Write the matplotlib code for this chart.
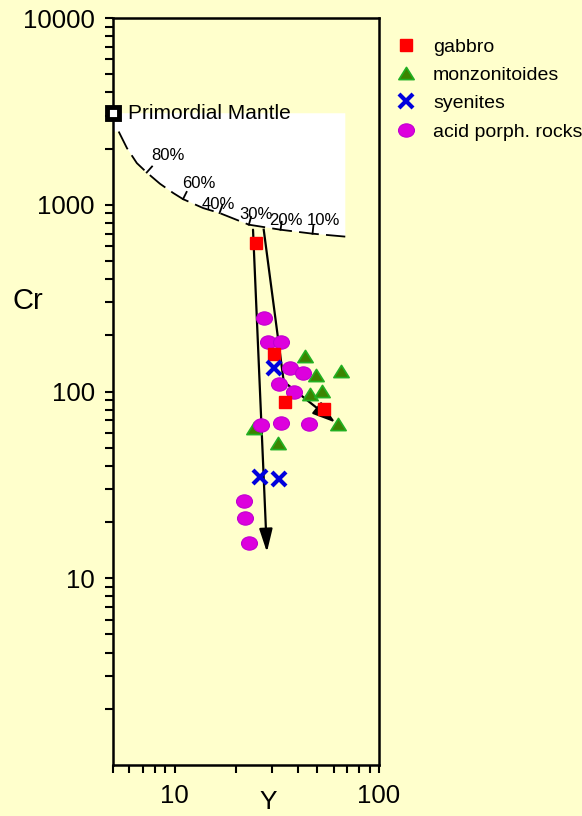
import numpy as np
import matplotlib
matplotlib.use("Agg")
import matplotlib.pyplot as plt
from matplotlib.path import Path

plt.rcParams['font.family'] = ['Liberation Sans', 'DejaVu Sans']

# Y (ppm) and Cr (ppm) of the sample groups
gabbro_y = [25.0, 30.5, 34.6, 54.1]
gabbro_cr = [627, 158, 88, 81]

monz_y = [43.3, 49.4, 65.5, 46.2, 52.8, 63.2, 24.4, 32.0]
monz_cr = [154, 122, 128, 97, 101, 67, 64, 53]

syen_y = [30.5, 26.1, 32.4]
syen_cr = [133, 35, 34]

acid_y = [27.3, 28.6, 33.0, 36.6, 42.3, 32.4, 38.3, 26.4, 33.0, 45.7, 21.9, 22.1, 23.1]
acid_cr = [249, 183, 183, 134, 126, 110, 100, 66, 68, 67, 26, 21, 15.4]

# primordial mantle and batch melting curve
pm_y, pm_cr = 5.0, 3090
melt_y = [5.33, 5.85, 6.54, 7.31, 8.49, 9.86, 11.0, 13.8, 16.6, 23.1, 33.0, 47.3, 68.4]
melt_cr = [2466, 2011, 1671, 1489, 1295, 1155, 1072, 960, 903, 782, 735, 700, 675]
box_top = 3090

# degree of melting marks on the curve
pct_labels = ['80%', '60%', '40%', '30%', '20%', '10%']
pct_y = [7.31, 11.0, 16.6, 23.1, 33.0, 47.3]
pct_cr = [1489, 1072, 903, 782, 735, 700]
pct_lab_y = [9.25, 13.1, 16.4, 25.0, 35.0, 53.5]
pct_lab_cr = [1828, 1294, 1000, 885, 821, 821]

# fractionation trends
trend1_y = [24.2, 28.3]
trend1_cr = [735, 13.8]
trend2_y = [27.3, 34.2, 61.1]
trend2_cr = [735, 113, 68.2]

bg = '#FFFFCC'
fig = plt.figure(figsize=(5.82, 8.16), dpi=100, facecolor=bg)
ax = fig.add_axes([113/582, 1 - 765/816, 266/582, 747/816])
ax.set_facecolor(bg)
ax.set_xscale('log')
ax.set_yscale('log')
ax.set_xlim(5, 100)
ax.set_ylim(1, 10000)

# white field above the melting curve
poly_x = [pm_y, melt_y[-1]] + melt_y[::-1] + [pm_y]
poly_y = [box_top, box_top] + melt_cr[::-1] + [melt_cr[0]]
ax.fill(poly_x, poly_y, color='white', zorder=1, lw=0)

ax.plot(melt_y, melt_cr, color='black', lw=1.3, dashes=(11, 4), zorder=2)

# short ticks across the curve
fig.canvas.draw()
pts = ax.transData.transform(np.column_stack([melt_y, melt_cr]))
for xv, yv in zip(pct_y, pct_cr):
    p = ax.transData.transform((xv, yv))
    i = int(np.argmin(np.abs(np.array(melt_y) - xv)))
    a = pts[max(i - 1, 0)]
    b = pts[min(i + 1, len(pts) - 1)]
    t = (b - a) / np.hypot(*(b - a))
    n = np.array([-t[1], t[0]])
    if n[1] < 0:
        n = -n
    q = p + n * 8
    seg = ax.transData.inverted().transform([p, q])
    ax.plot(seg[:, 0], seg[:, 1], color='black', lw=1.3, zorder=2)

for lab, xv, yv in zip(pct_labels, pct_lab_y, pct_lab_cr):
    ax.text(xv, yv, lab, fontsize=12, ha='center', va='center', zorder=3)

ax.plot(pm_y, pm_cr, marker='s', ms=9, mfc='white', mec='black', mew=3.5,
        clip_on=False, zorder=6)
ax.text(5.95, pm_cr, 'Primordial Mantle', fontsize=15, va='center', ha='left', zorder=6)

# trend lines with arrows
ax.annotate('', xy=(trend1_y[1], trend1_cr[1]), xytext=(trend1_y[0], trend1_cr[0]),
            arrowprops=dict(arrowstyle='-|>,head_length=1.4,head_width=0.4', lw=1.6,
                            color='black', shrinkA=0, shrinkB=0), zorder=3)
ax.plot(trend2_y[:2], trend2_cr[:2], color='black', lw=1.6, zorder=3)
ax.annotate('', xy=(trend2_y[2], trend2_cr[2]), xytext=(trend2_y[1], trend2_cr[1]),
            arrowprops=dict(arrowstyle='-|>,head_length=1.4,head_width=0.45', lw=1.6,
                            color='black', shrinkA=0, shrinkB=0), zorder=3)

tri = Path([(0, 0.8), (-1, -0.8), (1, -0.8), (0, 0.8)],
           [Path.MOVETO, Path.LINETO, Path.LINETO, Path.CLOSEPOLY])
circ = Path.unit_circle()
ell = Path(circ.vertices * [1.2, 1.0], circ.codes)

ax.plot(monz_y, monz_cr, ls='none', marker=tri, ms=11, mfc='#3c8400', mec='#22b022',
        mew=1.2, zorder=4, label='monzonitoides')
ax.plot(acid_y, acid_cr, ls='none', marker=ell, ms=11.5, mfc='#dd00dd', mec='#c000d0',
        mew=0.8, zorder=5, label='acid porph. rocks')
ax.plot(gabbro_y, gabbro_cr, ls='none', marker='s', ms=9.3, mfc='#ff0000', mec='#ff0000',
        zorder=6, label='gabbro')
ax.plot(syen_y, syen_cr, ls='none', marker='x', ms=10, mec='#0000dd', mew=3,
        zorder=7, label='syenites')

for s in ax.spines.values():
    s.set_linewidth(1.8)
ax.tick_params(which='both', direction='out', length=6, width=1.5, top=False, right=False,
               labelsize=18.5)
ax.tick_params(axis='y', which='both', pad=7)
ax.tick_params(axis='x', which='both', pad=8)
ax.set_yticks([10, 100, 1000, 10000])
ax.set_yticklabels(['10', '100', '1000', '10000'])
ax.set_xticks([10, 100])
ax.set_xticklabels(['10', '100'])

fig.text(28/582, 1 - 301/816, 'Cr', fontsize=21, ha='center', va='center')
fig.text(268/582, 2/816, 'Y', fontsize=19, ha='center', va='bottom')

h, l = ax.get_legend_handles_labels()
order = [2, 0, 3, 1]
ax.legend([h[i] for i in order], [l[i] for i in order], loc='upper left',
          bbox_to_anchor=(396/582, 1 - 38/816), bbox_transform=fig.transFigure,
          frameon=False, fontsize=14, handlelength=1.0, handletextpad=0.9,
          labelspacing=0.55, borderpad=0, borderaxespad=0)

fig.savefig('out.png', dpi=100, facecolor=bg)
